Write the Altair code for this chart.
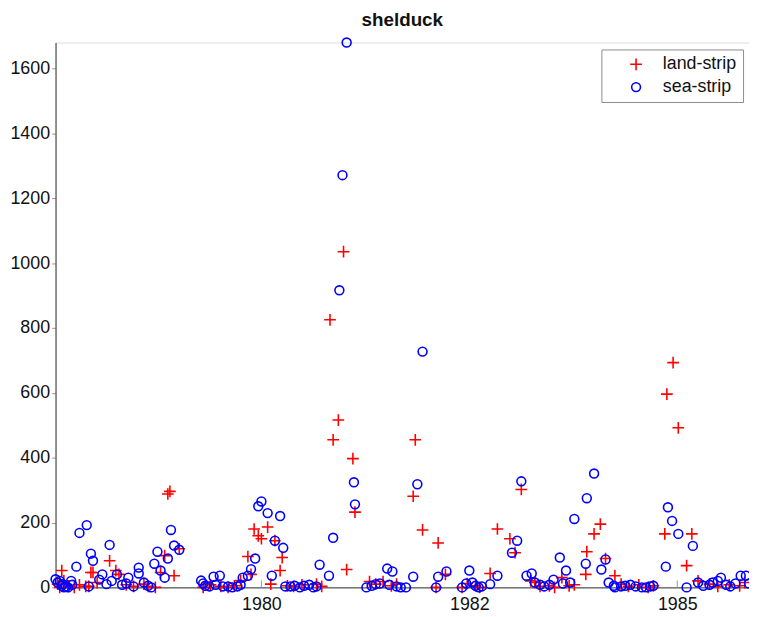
import altair as alt
import pandas as pd

# ---- data ----
sea_t = [1978.02, 1978.04, 1978.06, 1978.08, 1978.09, 1978.10, 1978.12, 1978.14, 1978.17, 1978.18,
         1978.22, 1978.25, 1978.32, 1978.34, 1978.36, 1978.38, 1978.44, 1978.47, 1978.51, 1978.54,
         1978.56, 1978.61, 1978.66, 1978.70, 1978.72, 1978.77, 1978.82, 1978.82, 1978.87, 1978.91,
         1978.94, 1978.97, 1979.00, 1979.03, 1979.07, 1979.10, 1979.13, 1979.16, 1979.21,
         1979.42, 1979.44, 1979.46, 1979.50, 1979.54, 1979.56, 1979.60, 1979.63, 1979.68, 1979.72,
         1979.77, 1979.80, 1979.82, 1979.87, 1979.90, 1979.94, 1979.97, 1980.00, 1980.06, 1980.10,
         1980.13, 1980.18, 1980.21, 1980.23, 1980.28, 1980.32, 1980.37, 1980.41, 1980.46, 1980.50,
         1980.53, 1980.56, 1980.65, 1980.69, 1980.75, 1980.78, 1980.82, 1980.89, 1980.90,
         1981.01, 1981.06, 1981.10, 1981.14, 1981.21, 1981.26, 1981.23, 1981.30, 1981.34, 1981.39,
         1981.46, 1981.50, 1981.55, 1981.68, 1981.70, 1981.78, 1981.93, 1981.97, 1982.00, 1982.03,
         1982.06, 1982.09, 1982.12, 1982.20, 1982.27, 1982.41, 1982.46, 1982.50, 1982.55, 1982.60,
         1982.63, 1982.68, 1982.72, 1982.77, 1982.81, 1982.87, 1982.90, 1982.93, 1982.97, 1983.01,
         1983.12, 1983.13, 1983.20, 1983.27, 1983.31, 1983.34, 1983.39, 1983.40, 1983.46, 1983.50,
         1983.55, 1983.60, 1983.66, 1983.70, 1983.74, 1983.77, 1983.89, 1983.91, 1983.95, 1984.01,
         1984.09, 1984.15, 1984.20, 1984.25, 1984.31, 1984.34, 1984.39, 1984.42, 1984.47, 1984.51,
         1984.56, 1984.61, 1984.66, 1984.69]
sea_v = [25, 15, 20, 5, 10, 0, 3, 0, 20, 8,
         64, 168, 192, 3, 104, 82, 24, 40, 10, 131,
         20, 40, 8, 12, 30, 3, 61, 43, 15, 5,
         0, 73, 110, 52, 30, 89, 177, 129, 116,
         21, 12, 5, 3, 33, 8, 36, 3, 3, 0,
         3, 8, 30, 36, 56, 89, 250, 265, 229, 36,
         144, 220, 122, 3, 3, 5, 0, 5, 8, 0,
         3, 70, 36, 153, 916, 1271, 1680, 324, 256,
         0, 5, 10, 12, 58, 49, 8, 3, 0, 0,
         33, 318, 727, 0, 33, 49, 0, 12, 52, 15,
         5, 0, 3, 10, 36, 107, 144, 327, 36, 43,
         15, 8, 3, 8, 24, 92, 12, 52, 15, 211,
         73, 275, 351, 55, 86, 15, 5, 0, 3, 5,
         8, 3, 0, 0, 3, 5, 64, 247, 205, 165,
         0, 128, 15, 5, 8, 15, 20, 30, 8, 3,
         12, 36, 36, 12]

land_t = [1978.04, 1978.06, 1978.08, 1978.10, 1978.15, 1978.20, 1978.25, 1978.31, 1978.34, 1978.36,
          1978.38, 1978.42, 1978.54, 1978.60, 1978.63, 1978.70, 1978.77, 1978.87, 1978.91, 1978.98,
          1979.03, 1979.07, 1979.10, 1979.12, 1979.16, 1979.21,
          1979.44, 1979.51, 1979.61, 1979.68, 1979.74, 1979.80, 1979.87, 1979.90, 1979.93, 1979.97,
          1980.00, 1980.06, 1980.09, 1980.13, 1980.18, 1980.20, 1980.25, 1980.31, 1980.39, 1980.53,
          1980.58, 1980.66, 1980.69, 1980.74, 1980.79, 1980.82, 1980.88, 1980.90,
          1981.04, 1981.10, 1981.17, 1981.25, 1981.30, 1981.46, 1981.48, 1981.55, 1981.68, 1981.70,
          1981.77, 1981.93, 1981.98, 1982.06, 1982.10, 1982.20, 1982.27, 1982.39, 1982.44, 1982.50,
          1982.59, 1982.63, 1982.68, 1982.77, 1982.82, 1982.89, 1982.96, 1983.01, 1983.12, 1983.13,
          1983.20, 1983.26, 1983.31, 1983.40, 1983.46, 1983.53, 1983.63, 1983.72, 1983.77, 1983.88,
          1983.90, 1983.96, 1984.01, 1984.09, 1984.14, 1984.20, 1984.31, 1984.39, 1984.50, 1984.60,
          1984.65]
land_v = [10, 0, 52, 20, 3, 0, 8, 3, 3, 46,
          46, 15, 82, 52, 40, 8, 3, 10, 3, 0,
          46, 98, 288, 296, 36, 119,
          0, 8, 3, 0, 5, 21, 95, 40, 180, 159,
          150, 186, 10, 144, 52, 92, 5, 3, 8, 10,
          3, 825, 455, 516, 1035, 55, 397, 232,
          18, 10, 18, 5, 10, 281, 455, 177, 0, 137,
          40, 0, 12, 5, 0, 43, 180, 150, 107, 302,
          20, 15, 3, 5, 0, 30, 5, 8, 40, 110,
          165, 195, 89, 36, 10, 3, 8, 0, 5, 165,
          596, 693, 492, 67, 165, 20, 10, 3, 8, 5,
          15]

series_names = ["land-strip", "sea-strip"]
series_colors = ["#ff0000", "#0000ff"]
tick_pos = [1980, 1982, 1984]
tick_labels = ["1980", "1982", "1985"]
y_ticks = [0, 200, 400, 600, 800, 1000, 1200, 1400, 1600]

df = pd.concat([
    pd.DataFrame({"t": land_t, "v": land_v, "series": series_names[0]}),
    pd.DataFrame({"t": sea_t, "v": sea_v, "series": series_names[1]}),
], ignore_index=True)
ticks_df = pd.DataFrame({"t": tick_pos})

label_expr = " : ".join(
    f"datum.value == {p} ? '{l}'" for p, l in zip(tick_pos[:-1], tick_labels[:-1])
) + f" : '{tick_labels[-1]}'"

FONT = "Liberation Sans"
xscale = alt.Scale(domain=[1978.02, 1984.69], nice=False, zero=False)
yscale = alt.Scale(domain=[0, 1680], nice=False, zero=True)

leg = alt.Legend(
    title=None, orient="none", legendX=551, legendY=7,
    strokeColor="#8c8c8c", fillColor="white", padding=6,
    labelFontSize=18, labelFont=FONT, labelColor="#111",
    symbolStrokeWidth=1.6, rowPadding=4, symbolOffset=20, labelOffset=18,
)

points = alt.Chart(df).mark_point(filled=False, strokeWidth=1.6, opacity=1).encode(
    x=alt.X("t:Q", scale=xscale, axis=alt.Axis(
        values=tick_pos, labelExpr=label_expr, tickSize=0, labelPadding=8,
        grid=False, title=None, domainColor="#333", labelFontSize=18,
        labelFont=FONT, labelColor="#111")),
    y=alt.Y("v:Q", scale=yscale, axis=alt.Axis(
        values=y_ticks, format="d", tickSize=4, tickColor="#999", labelPadding=2,
        grid=False, title=None, domainColor="#333", labelFontSize=18,
        labelFont=FONT, labelColor="#111")),
    color=alt.Color("series:N", scale=alt.Scale(domain=series_names, range=series_colors), legend=leg),
    shape=alt.Shape("series:N", scale=alt.Scale(domain=series_names, range=["M-1,0L1,0M0,-1L0,1", "circle"]), legend=leg),
    size=alt.Size("series:N", scale=alt.Scale(domain=series_names, range=[140, 80]), legend=leg),
)

xticks = alt.Chart(ticks_df).mark_rule(color="#999", strokeWidth=1).encode(
    x=alt.X("t:Q", scale=xscale),
    y=alt.datum(0),
    y2=alt.datum(21),
)

chart = alt.layer(xticks, points).properties(
    width=700, height=550,
    title=alt.TitleParams("shelduck", font=FONT, fontSize=19, fontWeight="bold", color="#111", offset=5),
    padding={"left": 48, "top": 32, "right": 0, "bottom": 24},
    autosize="none",
).configure_view(stroke=None).configure(background="white")

chart.save("out.html", embed_options={"renderer": "svg", "actions": False})
